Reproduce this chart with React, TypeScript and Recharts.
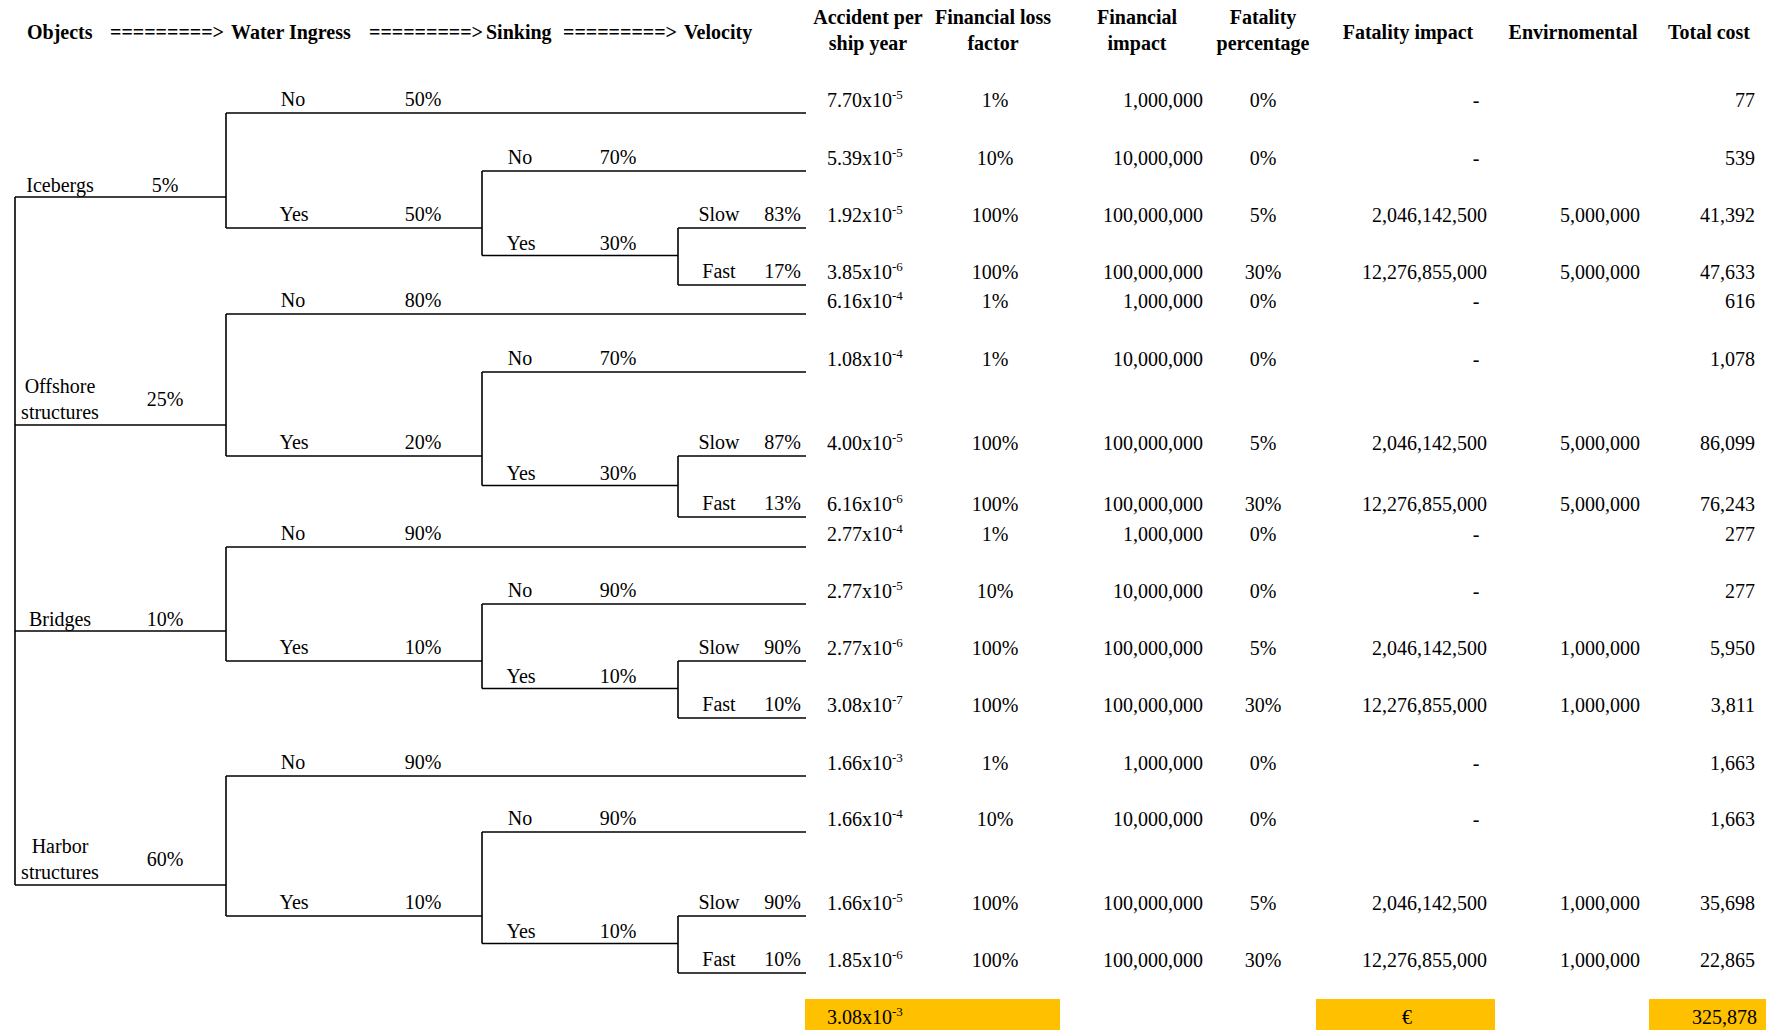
import React from 'react';
import { ScatterChart, Scatter, XAxis, YAxis, ReferenceLine, ReferenceArea } from 'recharts';

// tree headers
const treeHeaders = ['Objects', 'Water Ingress', 'Sinking', 'Velocity'];
const arrow = '=========>';

// table headers (one entry per line)
const columnHeaders = [
  ['Accident per', 'ship year'],
  ['Financial loss', 'factor'],
  ['Financial', 'impact'],
  ['Fatality', 'percentage'],
  ['Fatality impact'],
  ['Envirnomental'],
  ['Total cost'],
];

// event tree
const objects = ['Icebergs', 'Offshore structures', 'Bridges', 'Harbor structures'];
const objectProb = ['5%', '25%', '10%', '60%'];
const ingressNo = ['50%', '80%', '90%', '90%'];
const ingressYes = ['50%', '20%', '10%', '10%'];
const sinkingNo = ['70%', '70%', '90%', '90%'];
const sinkingYes = ['30%', '30%', '10%', '10%'];
const velocitySlow = ['83%', '87%', '90%', '90%'];
const velocityFast = ['17%', '13%', '10%', '10%'];

// outcome columns, 4 rows per object: no ingress, no sinking, slow, fast
const accidentMantissa = [
  '7.70', '5.39', '1.92', '3.85',
  '6.16', '1.08', '4.00', '6.16',
  '2.77', '2.77', '2.77', '3.08',
  '1.66', '1.66', '1.66', '1.85',
];
const accidentExponent = [
  '-5', '-5', '-5', '-6',
  '-4', '-4', '-5', '-6',
  '-4', '-5', '-6', '-7',
  '-3', '-4', '-5', '-6',
];
const lossFactor = [
  '1%', '10%', '100%', '100%',
  '1%', '1%', '100%', '100%',
  '1%', '10%', '100%', '100%',
  '1%', '10%', '100%', '100%',
];
const financialImpact = [
  '1,000,000', '10,000,000', '100,000,000', '100,000,000',
  '1,000,000', '10,000,000', '100,000,000', '100,000,000',
  '1,000,000', '10,000,000', '100,000,000', '100,000,000',
  '1,000,000', '10,000,000', '100,000,000', '100,000,000',
];
const fatalityPct = [
  '0%', '0%', '5%', '30%',
  '0%', '0%', '5%', '30%',
  '0%', '0%', '5%', '30%',
  '0%', '0%', '5%', '30%',
];
const fatalityImpact = [
  '-', '-', '2,046,142,500', '12,276,855,000',
  '-', '-', '2,046,142,500', '12,276,855,000',
  '-', '-', '2,046,142,500', '12,276,855,000',
  '-', '-', '2,046,142,500', '12,276,855,000',
];
const environmental = [
  '', '', '5,000,000', '5,000,000',
  '', '', '5,000,000', '5,000,000',
  '', '', '1,000,000', '1,000,000',
  '', '', '1,000,000', '1,000,000',
];
const totalCost = [
  '77', '539', '41,392', '47,633',
  '616', '1,078', '86,099', '76,243',
  '277', '277', '5,950', '3,811',
  '1,663', '1,663', '35,698', '22,865',
];
const totalAccident = ['3.08', '-3'];
const totalFatality = '€';
const totalCostSum = '325,878';

// layout (chart units = pixels)
const W = 1769;
const H = 1030;
const FONT = "'Times New Roman', 'Liberation Serif', serif";
const LEAF_Y = [
  [113, 171, 228, 285],
  [314, 372, 456, 517],
  [547, 604, 661, 718],
  [776, 832, 916, 973],
];
const OBJECT_Y = [197, 425, 631, 885];
const X_ROOT = 15, X_WI = 226, X_SINK = 482, X_VEL = 678, X_END = 806;
const HEADER_X = [27, 231, 486, 684];
const ARROW_X = [110, 369, 563];
const COL_HEAD_X = [868, 993, 1137, 1263, 1408, 1573, 1709];

type Cell = { x: number; y: number; text: string; anchor?: string; bold?: boolean; sup?: string };

const cells: Cell[] = [];
const lines: [number, number, number, number][] = [];

treeHeaders.forEach((t, i) => cells.push({ x: HEADER_X[i], y: 39, text: t, anchor: 'start', bold: true }));
ARROW_X.forEach((x) => cells.push({ x, y: 39, text: arrow, anchor: 'start', bold: true }));
columnHeaders.forEach((h, i) => {
  if (h.length === 1) cells.push({ x: COL_HEAD_X[i], y: 39, text: h[0], anchor: 'middle', bold: true });
  else h.forEach((t, k) => cells.push({ x: COL_HEAD_X[i], y: 24 + k * 26, text: t, anchor: 'middle', bold: true }));
});

objects.forEach((name, g) => {
  const [y0, y1, y2, y3] = LEAF_Y[g];
  const yo = OBJECT_Y[g];
  const ySinkYes = (y2 + y3) / 2 - 1;

  // tree labels
  const parts = name.split(' ');
  if (parts.length === 1) {
    cells.push({ x: 60, y: yo - 5, text: name, anchor: 'middle' });
    cells.push({ x: 165, y: yo - 5, text: objectProb[g], anchor: 'middle' });
  } else {
    cells.push({ x: 60, y: yo - 32, text: parts[0], anchor: 'middle' });
    cells.push({ x: 60, y: yo - 6, text: parts[1], anchor: 'middle' });
    cells.push({ x: 165, y: yo - 19, text: objectProb[g], anchor: 'middle' });
  }
  cells.push({ x: 293, y: y0 - 7, text: 'No', anchor: 'middle' });
  cells.push({ x: 423, y: y0 - 7, text: ingressNo[g], anchor: 'middle' });
  cells.push({ x: 294, y: y2 - 7, text: 'Yes', anchor: 'middle' });
  cells.push({ x: 423, y: y2 - 7, text: ingressYes[g], anchor: 'middle' });
  cells.push({ x: 520, y: y1 - 7, text: 'No', anchor: 'middle' });
  cells.push({ x: 618, y: y1 - 7, text: sinkingNo[g], anchor: 'middle' });
  cells.push({ x: 521, y: ySinkYes - 6, text: 'Yes', anchor: 'middle' });
  cells.push({ x: 618, y: ySinkYes - 6, text: sinkingYes[g], anchor: 'middle' });
  cells.push({ x: 719, y: y2 - 7, text: 'Slow', anchor: 'middle' });
  cells.push({ x: 801, y: y2 - 7, text: velocitySlow[g], anchor: 'end' });
  cells.push({ x: 719, y: y3 - 7, text: 'Fast', anchor: 'middle' });
  cells.push({ x: 801, y: y3 - 7, text: velocityFast[g], anchor: 'end' });

  // tree branches
  lines.push([X_ROOT, yo, X_WI, yo]);
  lines.push([X_WI, y0, X_WI, y2]);
  lines.push([X_WI, y0, X_END, y0]);
  lines.push([X_WI, y2, X_SINK, y2]);
  lines.push([X_SINK, y1, X_SINK, ySinkYes]);
  lines.push([X_SINK, y1, X_END, y1]);
  lines.push([X_SINK, ySinkYes, X_VEL, ySinkYes]);
  lines.push([X_VEL, y2, X_VEL, y3]);
  lines.push([X_VEL, y2, X_END, y2]);
  lines.push([X_VEL, y3, X_END, y3]);

  // outcome rows
  LEAF_Y[g].forEach((ly, r) => {
    const i = g * 4 + r;
    const y = ly - 6;
    cells.push({ x: 827, y, text: accidentMantissa[i] + 'x10', anchor: 'start', sup: accidentExponent[i] });
    cells.push({ x: 995, y, text: lossFactor[i], anchor: 'middle' });
    cells.push({ x: 1203, y, text: financialImpact[i], anchor: 'end' });
    cells.push({ x: 1263, y, text: fatalityPct[i], anchor: 'middle' });
    if (fatalityImpact[i] === '-') cells.push({ x: 1476, y, text: '-', anchor: 'middle' });
    else cells.push({ x: 1487, y, text: fatalityImpact[i], anchor: 'end' });
    if (environmental[i]) cells.push({ x: 1640, y, text: environmental[i], anchor: 'end' });
    cells.push({ x: 1755, y, text: totalCost[i], anchor: 'end' });
  });
});
lines.push([X_ROOT, OBJECT_Y[0], X_ROOT, OBJECT_Y[3]]);

cells.push({ x: 827, y: 1024, text: totalAccident[0] + 'x10', anchor: 'start', sup: totalAccident[1] });
cells.push({ x: 1407, y: 1024, text: totalFatality, anchor: 'middle' });
cells.push({ x: 1757, y: 1024, text: totalCostSum, anchor: 'end' });

const TextCell = (props: any) => {
  const { cx, cy, payload } = props;
  return (
    <text
      x={cx}
      y={cy}
      textAnchor={payload.anchor}
      fontFamily={FONT}
      fontSize={20}
      fontWeight={payload.bold ? 700 : 400}
      fill="#000"
    >
      {payload.text}
      {payload.sup ? (
        <tspan dy={-8} fontSize={13}>
          {payload.sup}
        </tspan>
      ) : null}
    </text>
  );
};

export default function App() {
  return (
    <div style={{ position: 'absolute', left: 0, top: 0, width: W, height: H, background: '#fff' }}>
      <ScatterChart width={W} height={H} margin={{ top: 0, right: 0, bottom: 0, left: 0 }}>
        <XAxis type="number" dataKey="x" domain={[0, W]} hide />
        <YAxis type="number" dataKey="y" domain={[0, H]} reversed hide />
        <ReferenceArea x1={805} x2={1060} y1={999} y2={H} fill="#FFC000" fillOpacity={1} stroke="none" />
        <ReferenceArea x1={1316} x2={1495} y1={999} y2={H} fill="#FFC000" fillOpacity={1} stroke="none" />
        <ReferenceArea x1={1649} x2={1766} y1={999} y2={H} fill="#FFC000" fillOpacity={1} stroke="none" />
        {lines.map((l, i) => (
          <ReferenceLine
            key={`l-${i}`}
            segment={[{ x: l[0], y: l[1] }, { x: l[2], y: l[3] }]}
            stroke="#000"
            strokeWidth={1.6}
            ifOverflow="visible"
          />
        ))}
        <Scatter data={cells} shape={<TextCell />} isAnimationActive={false} />
      </ScatterChart>
    </div>
  );
}
